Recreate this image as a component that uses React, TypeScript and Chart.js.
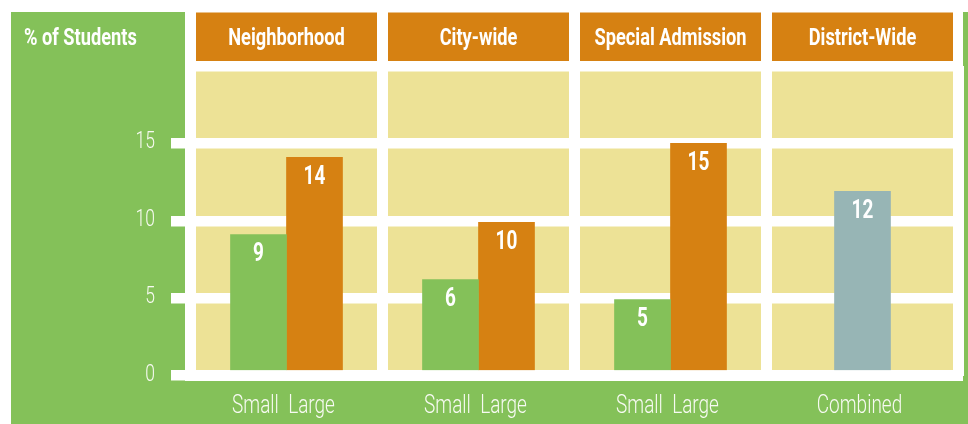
import React, { useEffect, useRef } from 'react';
import { Chart, registerables } from 'chart.js';

Chart.register(...registerables);

// ---- data ----
const programTypes = ['Neighborhood', 'City-wide', 'Special Admission', 'District-Wide'];
const groupLabels = ['Small  Large', 'Small  Large', 'Small  Large', 'Combined'];
const smallSchools = [9.1, 6.2, 4.9, null];
const largeSchools = [14.1, 9.9, 15.0, null];
const combinedSchools = [null, null, null, 11.9];
const yTickValues = [0, 5, 10, 15];
const yMax = 20;
const yAxisTitle = '% of Students';

// ---- styles ----
const GREEN = '#84c159';
const ORANGE = '#d68112';
const YELLOW = '#ede296';
const SLATE = '#97b5b5';
const WHITE = '#ffffff';
const TEXT = '#f7faf2';
const FONT = 'Roboto, "Liberation Sans", sans-serif';
const SQUEEZE = 0.76;

function condensedText(
  ctx: CanvasRenderingContext2D,
  text: string,
  x: number,
  y: number,
  font: string,
  align: CanvasTextAlign,
  color: string,
) {
  ctx.save();
  ctx.font = font;
  ctx.textAlign = align;
  ctx.textBaseline = 'alphabetic';
  ctx.fillStyle = color;
  ctx.translate(x, y);
  ctx.scale(SQUEEZE, 1);
  ctx.fillText(text, 0, 0);
  ctx.restore();
}

const backdropPlugin = {
  id: 'backdrop',
  beforeDraw(chart: any) {
    const { ctx, chartArea: a, scales } = chart;
    const x = scales.x;
    ctx.save();
    ctx.fillStyle = GREEN;
    ctx.fillRect(11, 12, chart.width - 11, chart.height - 12);
    ctx.fillStyle = WHITE;
    ctx.fillRect(a.left - 5.5, 12, a.right + 4.5 - (a.left - 5.5), a.bottom + 5.5 - 12);
    ctx.fillStyle = YELLOW;
    ctx.fillRect(a.left, a.top, a.right - a.left, a.bottom - a.top);
    const cw = (a.right - a.left) / programTypes.length;
    programTypes.forEach((name, i) => {
      const cx = x.getPixelForValue(i);
      ctx.fillStyle = ORANGE;
      ctx.fillRect(cx - cw / 2 + 5.5, 12.5, cw - 11, a.top - 5 - 12.5);
      condensedText(ctx, name, cx, 44.5, `bold 24px ${FONT}`, 'center', WHITE);
    });
    condensedText(ctx, yAxisTitle, 24, 44.5, `bold 24px ${FONT}`, 'left', WHITE);
    ctx.restore();
  },
  afterDatasetsDraw(chart: any) {
    const { ctx, chartArea: a, scales } = chart;
    const y0 = scales.y.getPixelForValue(0);
    ctx.save();
    ctx.fillStyle = WHITE;
    ctx.fillRect(a.left, y0 - 5.25, a.right - a.left, 10.5);
    ctx.restore();
    chart.data.datasets.forEach((ds: any, di: number) => {
      const meta = chart.getDatasetMeta(di);
      meta.data.forEach((el: any, i: number) => {
        const v = ds.data[i];
        if (v === null || v === undefined) return;
        condensedText(ctx, String(Math.round(v)), el.x, el.y + 26.3, `bold 25px ${FONT}`, 'center', WHITE);
      });
    });
  },
  afterDraw(chart: any) {
    const { ctx, scales } = chart;
    const x = scales.x;
    const y = scales.y;
    yTickValues.forEach((v) => {
      condensedText(ctx, String(v), 155, y.getPixelForValue(v) + 5, `300 23px ${FONT}`, 'right', TEXT);
    });
    groupLabels.forEach((lab, i) => {
      condensedText(ctx, lab, x.getPixelForValue(i) - 3, 413.3, `300 25px ${FONT}`, 'center', TEXT);
    });
  },
};

export default function App() {
  const ref = useRef<HTMLCanvasElement | null>(null);
  useEffect(() => {
    if (!ref.current) return;
    const chart = new Chart(ref.current, {
      type: 'bar',
      data: {
        labels: programTypes,
        datasets: [
          { label: 'Small', data: smallSchools, backgroundColor: GREEN },
          { label: 'Large', data: largeSchools, backgroundColor: ORANGE },
          { label: 'Combined', data: combinedSchools, backgroundColor: SLATE },
        ] as any,
      },
      options: {
        responsive: false,
        animation: false,
        devicePixelRatio: 1,
        layout: { padding: { top: 66, right: 9.5, left: 0, bottom: 0 } },
        datasets: { bar: { barThickness: 56, skipNull: true, borderWidth: 0 } } as any,
        plugins: { legend: { display: false }, tooltip: { enabled: false } },
        scales: {
          x: {
            type: 'category',
            offset: true,
            grid: { offset: true, color: WHITE, lineWidth: 11, drawTicks: false },
            border: { display: false },
            ticks: { display: false },
            afterFit: (s: any) => { s.height = 48.5; },
          },
          y: {
            min: 0,
            max: yMax,
            ticks: { stepSize: 5, display: false },
            grid: {
              color: WHITE,
              lineWidth: 10.5,
              tickLength: 19.5,
              tickColor: (c: any) => (c.tick && c.tick.value === yMax ? 'rgba(0,0,0,0)' : WHITE),
            },
            border: { display: false },
            afterFit: (s: any) => { s.width = 190.5; },
          },
        },
      } as any,
      plugins: [backdropPlugin],
    });
    return () => chart.destroy();
  }, []);
  return (
    <div style={{ position: 'fixed', left: 0, top: 0, width: 968, height: 424 }}>
      <canvas ref={ref} width={968} height={424} style={{ display: 'block' }} />
    </div>
  );
}
